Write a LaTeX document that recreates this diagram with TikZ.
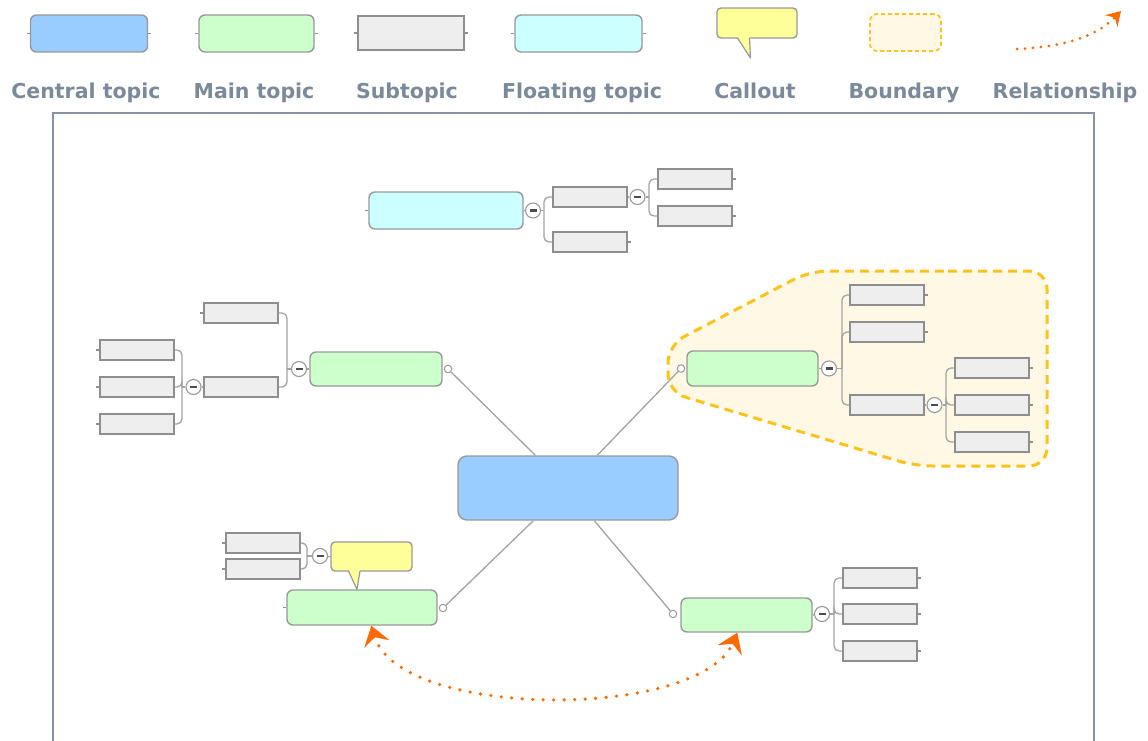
\documentclass[tikz,border=0pt]{standalone}
\usepackage{fontspec}
\setmainfont{DejaVu Sans}
\usetikzlibrary{arrows.meta,calc}
\definecolor{cblue}{HTML}{99CCFF}
\definecolor{cgreen}{HTML}{CCFFCC}
\definecolor{csub}{HTML}{EEEEEE}
\definecolor{ccyan}{HTML}{CCFFFF}
\definecolor{cyell}{HTML}{FFFF99}
\definecolor{linegray}{HTML}{A3A3A3}
\definecolor{boxedge}{HTML}{999999}
\definecolor{subedge}{HTML}{8E8E8E}
\definecolor{labelcol}{HTML}{7B8A9B}
\definecolor{framecol}{HTML}{8593A3}
\definecolor{relorange}{HTML}{FF6A00}
\definecolor{bounddash}{HTML}{FFC21A}
\definecolor{boundfill}{HTML}{FFF8E4}
\begin{document}
\begin{tikzpicture}[x=1pt,y=-1pt,
  central/.style={draw=boxedge, line width=1.4pt, fill=cblue, rounded corners=9pt, minimum width=#1, minimum height=64pt, inner sep=0pt},
  central/.default=220pt,
  maintopic/.style={draw=boxedge, line width=1.4pt, fill=cgreen, rounded corners=6pt, minimum width=#1, minimum height=35pt, inner sep=0pt},
  maintopic/.default=131pt,
  floattopic/.style={draw=boxedge, line width=1.4pt, fill=ccyan, rounded corners=6pt, minimum width=#1, minimum height=37pt, inner sep=0pt},
  subbox/.style={draw=subedge, line width=1.6pt, fill=csub, minimum width=74pt, minimum height=20pt, inner sep=0pt},
  calloutbox/.style={draw=boxedge, line width=1.4pt, fill=cyell, rounded corners=4pt, minimum width=81pt, minimum height=29pt, inner sep=0pt},
  collapse/.style={circle, draw=boxedge, fill=white, line width=1.1pt, minimum size=15pt, inner sep=0pt,
    path picture={\fill[black!70] ($(path picture bounding box.center)+(-3.5pt,-1.1pt)$) rectangle ($(path picture bounding box.center)+(3.5pt,1.1pt)$);}},
  hollow/.style={circle, draw=boxedge, fill=white, line width=1pt, minimum size=7.5pt, inner sep=0pt},
  conn/.style={draw=linegray, line width=1.3pt},
  brk/.style={draw=linegray, line width=1.3pt, rounded corners=5pt},
  tk/.style={draw=subedge, line width=1.3pt},
  legendlabel/.style={text=labelcol, font=\fontsize{20.5}{24}\selectfont\bfseries, inner sep=0pt, anchor=base},
  rel/.style={draw=relorange, line width=3.6pt, line cap=round, dash pattern=on 0pt off 10.5pt},
  bound/.style={draw=bounddash, fill=boundfill, line width=3pt, dash pattern=on 9pt off 6pt, rounded corners=18pt}
]
\useasboundingbox (0,0) rectangle (1148,741);
\fill[white] (0,0) rectangle (1148,741);

% ---------------- legend ----------------
\node[central=117pt, minimum height=37pt, rounded corners=6pt] (Lc) at (89,33.5) {};
\draw[tk] (Lc.west) -- ++(-3,0);
\draw[tk] (Lc.east) -- ++(3,0);
\node[maintopic=115pt, minimum height=37pt] (Lm) at (256.5,33.5) {};
\draw[tk] (Lm.west) -- ++(-3,0);
\draw[tk] (Lm.east) -- ++(3,0);
\node[subbox, minimum width=106pt, minimum height=34pt] (Ls) at (411,33) {};
\draw[tk] (Ls.west) -- ++(-3,0);
\draw[tk] (Ls.east) -- ++(3,0);
\node[floattopic=127pt] (Lf) at (578.5,33.5) {};
\draw[tk] (Lf.west) -- ++(-3,0);
\draw[tk] (Lf.east) -- ++(3,0);
\node[calloutbox, minimum width=80pt, minimum height=30pt] (Lco) at (757,23) {};
\fill[cyell] (737.5,36) -- (750.5,58) -- (749.5,36) -- cycle;
\draw[boxedge, line width=1.2pt, line join=round] (737.5,38) -- (750.5,58) -- (749.5,38);
\node[draw=bounddash, fill=boundfill, line width=1.8pt, dash pattern=on 4pt off 3pt, rounded corners=7pt, minimum width=71pt, minimum height=37pt, inner sep=0pt] (Lb) at (905.5,32.5) {};
\coordinate (Lr1) at (1017,49);
\coordinate (Lr2) at (1121,11);
\draw[rel, line width=3pt, dash pattern=on 0pt off 8pt, -{Stealth[length=14pt,width=17pt,inset=5pt,fill=relorange]}] (Lr1) .. controls (1060,47) and (1095,38) .. (Lr2);

\node[legendlabel] (t1) at (86,99) {Central topic};
\node[legendlabel] (t2) at (254,99) {Main topic};
\node[legendlabel] (t3) at (407,99) {Subtopic};
\node[legendlabel] (t4) at (582,99) {Floating topic};
\node[legendlabel] (t5) at (755,99) {Callout};
\node[legendlabel] (t6) at (904,99) {Boundary};
\node[legendlabel] (t7) at (1065,99) {Relationship};

% ---------------- frame ----------------
\draw[framecol, line width=2.2pt] (53,760) -- (53,113) -- (1094,113) -- (1094,760);

% ---------------- boundary ----------------
\draw[bound] (930,271) -- (1047,271) -- (1047,466) -- (915,466) -- (668,392) -- (668,345) -- (810,271) -- cycle;

% ---------------- floating topic ----------------
\node[floattopic=154pt] (F0) at (446,210.5) {};
\draw[tk] (F0.west) -- ++(-3,0);
\node[collapse] (c1) at (533,210.5) {};
\node[subbox] (A) at (590,197) {};
\node[subbox] (B) at (590,242) {};
\node[collapse] (c2) at (637.5,197) {};
\node[subbox] (Cc) at (695,179) {};
\node[subbox] (D) at (695,216) {};
\coordinate (b1) at (544,210.5);
\coordinate (b2) at (649,197);
\draw[conn] (F0.east) -- (c1);
\draw[conn] (c1) -- (b1);
\draw[brk] (b1) |- (A);
\draw[brk] (b1) |- (B);
\draw[conn] (A.east) -- (c2);
\draw[conn] (c2) -- (b2);
\draw[brk] (b2) |- (Cc);
\draw[brk] (b2) |- (D);
\draw[tk] (B.east) -- ++(3,0);
\draw[tk] (Cc.east) -- ++(3,0);
\draw[tk] (D.east) -- ++(3,0);

% ---------------- central topic ----------------
\node[central] (C) at (568,488) {};

% ---------------- upper-left main ----------------
\node[maintopic=132pt, minimum height=34pt] (LM) at (376,369) {};
\node[hollow] (h1) at (448,369) {};
\node[collapse] (c3) at (299,369) {};
\node[subbox] (E) at (241,313) {};
\node[subbox] (Fs) at (241,387) {};
\node[collapse] (c4) at (193.5,387) {};
\node[subbox] (G) at (137,350) {};
\node[subbox] (H) at (137,387) {};
\node[subbox] (I) at (137,424) {};
\coordinate (b3) at (287,369);
\coordinate (b4) at (182,387);
\draw[conn] (LM.west) -- (c3);
\draw[conn] (c3) -- (b3);
\draw[brk] (b3) |- (E);
\draw[brk] (b3) |- (Fs);
\draw[conn] (Fs.west) -- (c4);
\draw[conn] (c4) -- (b4);
\draw[brk] (b4) |- (G);
\draw[brk] (b4) |- (H);
\draw[brk] (b4) |- (I);
\draw[tk] (E.west) -- ++(-3,0);
\draw[tk] (G.west) -- ++(-3,0);
\draw[tk] (H.west) -- ++(-3,0);
\draw[tk] (I.west) -- ++(-3,0);

% ---------------- right main (in boundary) ----------------
\node[maintopic] (RM) at (752.5,368.5) {};
\node[hollow] (h2) at (681,368.5) {};
\node[collapse] (c5) at (829,368.5) {};
\node[subbox] (J) at (887,295) {};
\node[subbox] (K) at (887,332) {};
\node[subbox] (L) at (887,405) {};
\node[collapse] (c6) at (934.5,405) {};
\node[subbox] (M) at (992,368) {};
\node[subbox] (N) at (992,405) {};
\node[subbox] (O) at (992,442) {};
\coordinate (b5) at (842,368.5);
\coordinate (b6) at (946,405);
\draw[conn] (RM.east) -- (c5);
\draw[conn] (c5) -- (b5);
\draw[brk] (b5) |- (J);
\draw[brk] (b5) |- (K);
\draw[brk] (b5) |- (L);
\draw[conn] (L.east) -- (c6);
\draw[conn] (c6) -- (b6);
\draw[brk] (b6) |- (M);
\draw[brk] (b6) |- (N);
\draw[brk] (b6) |- (O);
\draw[tk] (J.east) -- ++(3,0);
\draw[tk] (K.east) -- ++(3,0);
\draw[tk] (M.east) -- ++(3,0);
\draw[tk] (N.east) -- ++(3,0);
\draw[tk] (O.east) -- ++(3,0);

% ---------------- lower-left main + callout ----------------
\node[maintopic=150pt] (LL) at (362,607.5) {};
\draw[tk] (LL.west) -- ++(-3,0);
\node[hollow] (h3) at (443,608) {};
\node[calloutbox] (CO) at (371.5,556.5) {};
\fill[cyell] (348.5,569) -- (357,590) -- (360,569) -- cycle;
\draw[boxedge, line width=1.2pt, line join=round] (348.5,571) -- (357,589.5) -- (360,571);
\node[collapse] (c7) at (320,556) {};
\node[subbox] (P) at (263,543) {};
\node[subbox] (Q) at (263,569) {};
\coordinate (b7) at (307,556);
\draw[conn] (CO.west) -- (c7);
\draw[conn] (c7) -- (b7);
\draw[brk] (b7) |- (P);
\draw[brk] (b7) |- (Q);
\draw[tk] (P.west) -- ++(-3,0);
\draw[tk] (Q.west) -- ++(-3,0);

% ---------------- lower-right main ----------------
\node[maintopic=131pt, minimum height=34pt] (LR) at (746.5,615) {};
\node[hollow] (h4) at (673,614) {};
\node[collapse] (c8) at (822,614) {};
\node[subbox] (R) at (880,578) {};
\node[subbox] (S) at (880,614) {};
\node[subbox] (T) at (880,651) {};
\coordinate (b8) at (834,614);
\draw[conn] (LR.east) -- (c8);
\draw[conn] (c8) -- (b8);
\draw[brk] (b8) |- (R);
\draw[brk] (b8) |- (S);
\draw[brk] (b8) |- (T);
\draw[tk] (R.east) -- ++(3,0);
\draw[tk] (S.east) -- ++(3,0);
\draw[tk] (T.east) -- ++(3,0);

% ---------------- central connectors ----------------
\draw[conn] ([xshift=78pt]C.north west) -- (h1);
\draw[conn] ([xshift=140pt]C.north west) -- (h2);
\draw[conn] ([xshift=76pt]C.south west) -- (h3);
\draw[conn] ([xshift=137pt]C.south west) -- (h4);

% ---------------- relationship ----------------
\coordinate (r1) at ([xshift=85pt]LL.south west);
\coordinate (r2) at ([xshift=57pt]LR.south west);
\draw[rel, {Stealth[length=19pt,width=26pt,inset=7pt,fill=relorange]}-{Stealth[length=19pt,width=26pt,inset=7pt,fill=relorange]}] (r1) .. controls (400,720) and (700,720) .. (r2);
\end{tikzpicture}
\end{document}
